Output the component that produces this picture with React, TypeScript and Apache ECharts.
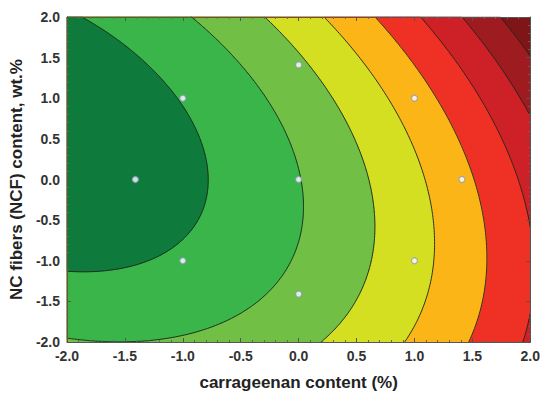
import React, { useEffect, useRef } from "react";
import * as echarts from "echarts";

// Second-order response surface in coded units:
// R = b0 + b1*C + b11*C^2 + b2*N + b22*N^2 + b12*C*N
// C = carrageenan content, N = NC fibers content
const surfaceTerms = ["b0", "b1", "b11", "b2", "b22", "b12"];
const surfaceCoefficients = [1.97, 1.5, 0.33, 0.19, 0.3, 0.24];

// Contour levels of the response and the fill of each band (lowest first)
const contourLevels = [1, 2, 3, 4, 5, 6, 7, 8];
const bandColors = [
  "#0e7b3c",
  "#3ab54a",
  "#71bf44",
  "#d5df22",
  "#fbb516",
  "#ee3124",
  "#cd2027",
  "#9e1b1f",
  "#7e1517",
];

// Central composite design points (coded levels)
const designCarrageenan = [-1.41, -1, -1, 0, 0, 0, 1, 1, 1.41];
const designFibers = [0, 1, -1, 1.41, 0, -1.41, 1, -1, 0];

// Axis ranges
const carrageenanRange = [-2, 2];
const fibersRange = [-2, 2];
const tickStep = 0.5;

type Pt = [number, number];

const coef = (name: string) => surfaceCoefficients[surfaceTerms.indexOf(name)];

function surface(c: number, n: number) {
  return (
    coef("b0") +
    coef("b1") * c +
    coef("b11") * c * c +
    coef("b2") * n +
    coef("b22") * n * n +
    coef("b12") * c * n
  );
}

// Level sets of a convex quadratic are ellipses around the stationary point
function levelEllipse(level: number, samples = 720): Pt[] {
  const b1 = coef("b1"), b2 = coef("b2"), b11 = coef("b11"), b22 = coef("b22"), b12 = coef("b12");
  const det = 4 * b11 * b22 - b12 * b12;
  const cx = (-b1 * 2 * b22 + b2 * b12) / det;
  const cy = (-b2 * 2 * b11 + b1 * b12) / det;
  const fmin = surface(cx, cy);
  const pts: Pt[] = [];
  for (let i = 0; i < samples; i++) {
    const t = Math.PI + (i / samples) * Math.PI * 2;
    const u = Math.cos(t), v = Math.sin(t);
    const q = b11 * u * u + b12 * u * v + b22 * v * v;
    const r = Math.sqrt(Math.max(level - fmin, 0) / q);
    pts.push([cx + r * u, cy + r * v]);
  }
  return pts;
}

// Sutherland–Hodgman clipping of a polygon to the plot rectangle
function clipPolygon(poly: Pt[]): Pt[] {
  const [x0, x1] = carrageenanRange;
  const [y0, y1] = fibersRange;
  const edges: Array<[(p: Pt) => boolean, (a: Pt, b: Pt) => Pt]> = [
    [(p) => p[0] >= x0, (a, b) => { const t = (x0 - a[0]) / (b[0] - a[0]); return [x0, a[1] + t * (b[1] - a[1])]; }],
    [(p) => p[0] <= x1, (a, b) => { const t = (x1 - a[0]) / (b[0] - a[0]); return [x1, a[1] + t * (b[1] - a[1])]; }],
    [(p) => p[1] >= y0, (a, b) => { const t = (y0 - a[1]) / (b[1] - a[1]); return [a[0] + t * (b[0] - a[0]), y0]; }],
    [(p) => p[1] <= y1, (a, b) => { const t = (y1 - a[1]) / (b[1] - a[1]); return [a[0] + t * (b[0] - a[0]), y1]; }],
  ];
  let out = poly;
  for (const [inside, cut] of edges) {
    const input = out;
    out = [];
    for (let i = 0; i < input.length; i++) {
      const cur = input[i];
      const prev = input[(i + input.length - 1) % input.length];
      if (inside(cur)) {
        if (!inside(prev)) out.push(cut(prev, cur));
        out.push(cur);
      } else if (inside(prev)) {
        out.push(cut(prev, cur));
      }
    }
    if (!out.length) break;
  }
  return out;
}

// Liang–Barsky clipping of one segment
function clipSegment(a: Pt, b: Pt): [Pt, Pt, boolean, boolean] | null {
  const [x0, x1] = carrageenanRange;
  const [y0, y1] = fibersRange;
  const dx = b[0] - a[0], dy = b[1] - a[1];
  let t0 = 0, t1 = 1;
  const p = [-dx, dx, -dy, dy];
  const q = [a[0] - x0, x1 - a[0], a[1] - y0, y1 - a[1]];
  for (let i = 0; i < 4; i++) {
    if (p[i] === 0) {
      if (q[i] < 0) return null;
    } else {
      const r = q[i] / p[i];
      if (p[i] < 0) { if (r > t1) return null; if (r > t0) t0 = r; }
      else { if (r < t0) return null; if (r < t1) t1 = r; }
    }
  }
  return [
    [a[0] + t0 * dx, a[1] + t0 * dy],
    [a[0] + t1 * dx, a[1] + t1 * dy],
    t0 > 0,
    t1 < 1,
  ];
}

function clipCurve(curve: Pt[]): Pt[][] {
  const lines: Pt[][] = [];
  let cur: Pt[] = [];
  for (let i = 0; i < curve.length; i++) {
    const seg = clipSegment(curve[i], curve[(i + 1) % curve.length]);
    if (!seg) {
      if (cur.length > 1) lines.push(cur);
      cur = [];
      continue;
    }
    const [s, e, cutStart, cutEnd] = seg;
    if (cutStart || !cur.length) {
      if (cur.length > 1) lines.push(cur);
      cur = [s];
    }
    cur.push(e);
    if (cutEnd) {
      lines.push(cur);
      cur = [];
    }
  }
  if (cur.length > 1) {
    if (lines.length && !clipSegment(curve[curve.length - 1], curve[0])?.[3]) {
      const first = lines[0];
      const last = cur[cur.length - 1];
      if (Math.abs(first[0][0] - last[0]) < 1e-9 && Math.abs(first[0][1] - last[1]) < 1e-9) {
        lines[0] = cur.concat(first.slice(1));
      } else lines.push(cur);
    } else lines.push(cur);
  }
  return lines;
}

const levelCurves = contourLevels.map((l) => levelEllipse(l));
const bandPolygons = levelCurves.map((c) => clipPolygon(c));
const contourLines = levelCurves.map((c) => clipCurve(c));

const fontFamily = "'Liberation Sans', Arial, Helvetica, sans-serif";

export default function App() {
  const ref = useRef<HTMLDivElement>(null);

  useEffect(() => {
    if (!ref.current) return;
    const chart = echarts.init(ref.current, null, { renderer: "svg" });

    const tickLabel = {
      fontSize: 14,
      fontWeight: "bold" as const,
      color: "#333",
      fontFamily,
      formatter: (v: number) => v.toFixed(1),
    };
    const frameLine = { show: true, onZero: false, lineStyle: { color: "#555", width: 1 } };
    const innerTick = { show: true, inside: true, length: 4, lineStyle: { color: "#555" } };
    const innerMinor = { show: true, splitNumber: 5, length: 2, lineStyle: { color: "#666" } };

    chart.setOption({
      animation: false,
      backgroundColor: "#fff",
      grid: { left: 67, right: 12, top: 17, bottom: 57, containLabel: false },
      xAxis: [
        {
          type: "value",
          position: "bottom",
          min: carrageenanRange[0],
          max: carrageenanRange[1],
          interval: tickStep,
          z: 10,
          axisLine: frameLine,
          axisTick: innerTick,
          minorTick: innerMinor,
          splitLine: { show: false },
          axisLabel: { ...tickLabel, margin: 7 },
          name: "carrageenan content (%)",
          nameLocation: "middle",
          nameGap: 32,
          nameTextStyle: { fontSize: 17, fontWeight: "bold", color: "#222", fontFamily },
        },
        {
          type: "value",
          position: "top",
          min: carrageenanRange[0],
          max: carrageenanRange[1],
          interval: tickStep,
          z: 10,
          axisLine: frameLine,
          axisTick: innerTick,
          minorTick: innerMinor,
          splitLine: { show: false },
          axisLabel: { show: false },
        },
      ],
      yAxis: [
        {
          type: "value",
          position: "left",
          min: fibersRange[0],
          max: fibersRange[1],
          interval: tickStep,
          z: 10,
          axisLine: frameLine,
          axisTick: innerTick,
          minorTick: innerMinor,
          splitLine: { show: false },
          axisLabel: { ...tickLabel, margin: 7 },
          name: "NC fibers (NCF) content, wt.%",
          nameLocation: "middle",
          nameRotate: 90,
          nameGap: 39,
          nameTextStyle: { fontSize: 17, fontWeight: "bold", color: "#222", fontFamily },
        },
        {
          type: "value",
          position: "right",
          min: fibersRange[0],
          max: fibersRange[1],
          interval: tickStep,
          z: 10,
          axisLine: frameLine,
          axisTick: innerTick,
          minorTick: innerMinor,
          splitLine: { show: false },
          axisLabel: { show: false },
        },
      ],
      series: [
        {
          type: "custom",
          name: "response",
          coordinateSystem: "cartesian2d",
          xAxisIndex: 0,
          yAxisIndex: 0,
          silent: true,
          z: 2,
          data: [[0, 0]],
          renderItem: (_params: any, api: any) => {
            const toPx = (pts: Pt[]) => pts.map((p) => api.coord(p));
            const [x0, x1] = carrageenanRange;
            const [y0, y1] = fibersRange;
            const children: any[] = [
              {
                type: "polygon",
                shape: { points: toPx([[x0, y0], [x1, y0], [x1, y1], [x0, y1]]) },
                style: { fill: bandColors[contourLevels.length] },
              },
            ];
            for (let k = contourLevels.length - 1; k >= 0; k--) {
              const poly = bandPolygons[k];
              if (poly.length < 3) continue;
              children.push({
                type: "polygon",
                shape: { points: toPx(poly) },
                style: { fill: bandColors[k], stroke: bandColors[k], lineWidth: 0.5 },
              });
            }
            contourLines.forEach((lines) => {
              lines.forEach((line) => {
                children.push({
                  type: "polyline",
                  shape: { points: toPx(line) },
                  style: { stroke: "#1b241b", lineWidth: 1, fill: null, opacity: 0.9 },
                });
              });
            });
            return { type: "group", children };
          },
        },
        {
          type: "scatter",
          name: "design points",
          xAxisIndex: 0,
          yAxisIndex: 0,
          z: 5,
          silent: true,
          symbol: "circle",
          symbolSize: 6,
          itemStyle: { color: "#ffffff", borderColor: "#8c9ac2", borderWidth: 1.2 },
          data: designCarrageenan.map((c, i) => [c, designFibers[i]]),
        },
      ],
    });

    return () => chart.dispose();
  }, []);

  return (
    <div
      ref={ref}
      style={{ position: "absolute", left: 0, top: 0, width: 543, height: 399 }}
    />
  );
}
